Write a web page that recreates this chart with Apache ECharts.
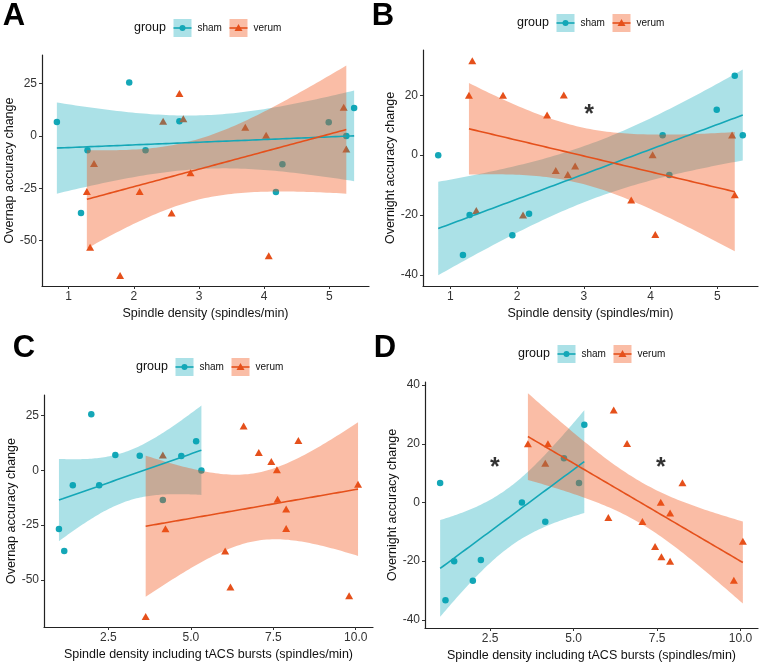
<!DOCTYPE html>
<html>
<head>
<meta charset="utf-8">
<script src="https://cdn.jsdelivr.net/npm/echarts@6/dist/echarts.min.js"></script>
<style>
  html, body { margin: 0; padding: 0; background: #fff; }
  #chart { width: 760px; height: 664px; }
</style>
</head>
<body>
<div id="chart"></div>
<script>
// one entry per subject, same order in every array of a group
const shamDensity     = [0.82, 1.19, 1.29, 1.93, 2.18, 2.70, 4.18, 4.28, 4.99, 5.26, 5.38];
const shamDensityTacs = [3.45, 1.16, 1.42, 1.98, 2.22, 2.71, 1.00, 4.15, 4.71, 5.32, 5.16];
const shamOvernap     = [6.7, -36.8, -6.8, 25.6, -6.8, 7.0, -26.8, -13.5, 6.6, 0, 13.3];
const shamOvernight   = [0, -33.3, -20.0, -26.7, -19.6, null, 6.6, -6.6, 15.1, 26.5, 6.6];

const verumDensity     = [1.28, 1.33, 1.39, 1.79, 2.09, 2.45, 2.58, 2.70, 2.76, 2.87, 3.71, 4.03, 4.07, 5.22, 5.26];
const verumDensityTacs = [4.23, 6.20, 7.63, 3.63, 7.89, 4.15, 6.04, 6.60, 7.06, 7.89, 7.44, 7.61, 9.80, 8.26, 10.07];
const verumOvernap     = [-26.6, -53.2, -13.2, -66.7, -26.5, 7.0, -36.8, 20.3, 8.2, -17.6, 4.1, 0.3, -57.3, 13.7, -6.3];
const verumOvernight   = [20.0, 31.5, -18.5, 20.0, -20.0, 13.4, -5.1, 20.1, -6.5, -3.6, -15.0, 0.1, -26.5, 6.7, -13.2];

const densityTicks   = [1, 2, 3, 4, 5];
const tacsTicks      = [2.5, 5, 7.5, 10];
const overnapTicks   = [-50, -25, 0, 25];
const overnightTicksB = [-40, -20, 0, 20];
const overnightTicksD = [-40, -20, 0, 20, 40];

const starsB = [[3.08, 15.7]];
const starsD = [[2.64, 14.1], [7.61, 14.1]];

const FONT = '"Liberation Sans", Arial, sans-serif';
const SHAM = '#14a7b7';
const VERUM = '#e5501b';
const SHAM_FILL = 'rgba(0,165,182,0.33)';
const VERUM_FILL = 'rgba(242,82,22,0.38)';

// t quantile (0.975) by degrees of freedom
const T975 = {5: 2.571, 6: 2.447, 7: 2.365, 8: 2.306, 9: 2.262, 10: 2.228, 11: 2.201,
  12: 2.179, 13: 2.160, 14: 2.145, 15: 2.131, 16: 2.120, 17: 2.110, 18: 2.101};

// linear fit with 95% confidence band, like geom_smooth(method = "lm")
function fitLm(xs, ys) {
  const pts = xs.map((x, i) => [x, ys[i]]).filter((d) => d[1] !== null);
  const n = pts.length;
  const mx = pts.reduce((s, d) => s + d[0], 0) / n;
  const my = pts.reduce((s, d) => s + d[1], 0) / n;
  let sxx = 0, sxy = 0;
  pts.forEach((d) => { sxx += (d[0] - mx) ** 2; sxy += (d[0] - mx) * (d[1] - my); });
  const b = sxy / sxx, a = my - b * mx;
  let sse = 0;
  pts.forEach((d) => { const r = d[1] - (a + b * d[0]); sse += r * r; });
  const s = Math.sqrt(sse / (n - 2));
  const t = T975[n - 2];
  const lo = Math.min(...pts.map((d) => d[0]));
  const hi = Math.max(...pts.map((d) => d[0]));
  const line = [], band = [];
  for (let k = 0; k < 80; k++) {
    const x = lo + (hi - lo) * k / 79;
    const f = a + b * x;
    const se = s * Math.sqrt(1 / n + (x - mx) ** 2 / sxx);
    line.push([x, f]);
    band.push([x, f - t * se, f + t * se]);
  }
  return { pts, line, band };
}

function expand(vals) {
  const lo = Math.min(...vals), hi = Math.max(...vals), d = (hi - lo) * 0.05;
  return [lo - d, hi + d];
}

const panels = [
  { letter: 'A', lx: 14, ly: 16, legX: 134, legY: 28,
    grid: { left: 42, top: 55, width: 327, height: 231 },
    sx: shamDensity, sy: shamOvernap, vx: verumDensity, vy: verumOvernap,
    xTicks: densityTicks, yTicks: overnapTicks, dec: false,
    xName: 'Spindle density (spindles/min)', yName: 'Overnap accuracy change', stars: [] },
  { letter: 'B', lx: 383, ly: 16, legX: 517, legY: 23,
    grid: { left: 423, top: 50, width: 335, height: 236 },
    sx: shamDensity, sy: shamOvernight, vx: verumDensity, vy: verumOvernight,
    xTicks: densityTicks, yTicks: overnightTicksB, dec: false,
    xName: 'Spindle density (spindles/min)', yName: 'Overnight accuracy change', stars: starsB },
  { letter: 'C', lx: 24, ly: 348, legX: 136, legY: 367,
    grid: { left: 44, top: 395, width: 329, height: 232 },
    sx: shamDensityTacs, sy: shamOvernap, vx: verumDensityTacs, vy: verumOvernap,
    xTicks: tacsTicks, yTicks: overnapTicks, dec: true,
    xName: 'Spindle density including tACS bursts (spindles/min)', yName: 'Overnap accuracy change', stars: [] },
  { letter: 'D', lx: 385, ly: 348, legX: 518, legY: 354,
    grid: { left: 425, top: 382, width: 333, height: 246 },
    sx: shamDensityTacs, sy: shamOvernight, vx: verumDensityTacs, vy: verumOvernight,
    xTicks: tacsTicks, yTicks: overnightTicksD, dec: true,
    xName: 'Spindle density including tACS bursts (spindles/min)', yName: 'Overnight accuracy change', stars: starsD },
];

function ribbon(band) {
  return (params, api) => {
    if (params.dataIndex !== 0) return null;
    const upper = band.map((d) => api.coord([d[0], d[2]]));
    const lower = band.map((d) => api.coord([d[0], d[1]])).reverse();
    return { type: 'polygon', shape: { points: upper.concat(lower) }, style: { fill: api.visual('color') } };
  };
}

const grids = [], xAxes = [], yAxes = [], series = [], graphics = [];

panels.forEach((p, i) => {
  const sham = fitLm(p.sx, p.sy);
  const verum = fitLm(p.vx, p.vy);
  const xr = expand(sham.pts.concat(verum.pts).map((d) => d[0]));
  const yr = expand([].concat(
    sham.pts.map((d) => d[1]), verum.pts.map((d) => d[1]),
    sham.band.map((d) => d[1]), sham.band.map((d) => d[2]),
    verum.band.map((d) => d[1]), verum.band.map((d) => d[2])));

  grids.push(Object.assign({ outerBoundsMode: 'none', containLabel: false }, p.grid));
  const axisCommon = {
    axisLine: { onZero: false, lineStyle: { color: '#222', width: 1.2 } },
    splitLine: { show: false },
    nameLocation: 'middle',
    nameTextStyle: { fontFamily: FONT, fontSize: 12.5, color: '#111' },
  };
  xAxes.push(Object.assign({}, axisCommon, {
    type: 'value', gridIndex: i, min: xr[0], max: xr[1],
    name: p.xName, nameGap: 21,
    axisTick: { length: 3, lineStyle: { color: '#333' }, customValues: p.xTicks },
    axisLabel: { customValues: p.xTicks, margin: 5, fontFamily: FONT, fontSize: 12, color: '#333',
      formatter: (v) => (p.dec ? v.toFixed(1) : String(v)) },
  }));
  yAxes.push(Object.assign({}, axisCommon, {
    type: 'value', gridIndex: i, min: yr[0], max: yr[1],
    name: p.yName, nameGap: 26,
    axisTick: { length: 3, lineStyle: { color: '#333' }, customValues: p.yTicks },
    axisLabel: { customValues: p.yTicks, margin: 5, fontFamily: FONT, fontSize: 12, color: '#333' },
  }));

  // points under the ribbons, lines on top, as in the ggplot layering
  series.push(
    { type: 'scatter', name: 'sham', xAxisIndex: i, yAxisIndex: i, z: 2, symbol: 'circle', symbolSize: 6.5,
      itemStyle: { color: SHAM, opacity: 1 }, data: sham.pts, silent: true },
    { type: 'scatter', name: 'verum', xAxisIndex: i, yAxisIndex: i, z: 2, symbol: 'triangle', symbolSize: [8, 7],
      itemStyle: { color: VERUM, opacity: 1 }, data: verum.pts, silent: true },
    { type: 'custom', xAxisIndex: i, yAxisIndex: i, z: 3, itemStyle: { color: SHAM_FILL },
      renderItem: ribbon(sham.band), data: sham.band, silent: true },
    { type: 'custom', xAxisIndex: i, yAxisIndex: i, z: 3, itemStyle: { color: VERUM_FILL },
      renderItem: ribbon(verum.band), data: verum.band, silent: true },
    { type: 'line', xAxisIndex: i, yAxisIndex: i, z: 4, data: sham.line, showSymbol: false,
      lineStyle: { color: SHAM, width: 1.6 }, itemStyle: { color: SHAM }, silent: true },
    { type: 'line', xAxisIndex: i, yAxisIndex: i, z: 4, data: verum.line, showSymbol: false,
      lineStyle: { color: VERUM, width: 1.6 }, itemStyle: { color: VERUM }, silent: true }
  );
  if (p.stars.length) {
    series.push({ type: 'scatter', xAxisIndex: i, yAxisIndex: i, z: 5, symbolSize: 1,
      itemStyle: { color: 'rgba(0,0,0,0)' }, data: p.stars, silent: true,
      label: { show: true, position: 'inside', formatter: '*', offset: [0, 7],
        fontFamily: FONT, fontSize: 25, fontWeight: 'bold', color: '#000' } });
  }

  // panel letter
  graphics.push({ type: 'text', x: p.lx, y: p.ly,
    style: { text: p.letter, font: 'bold 31px ' + FONT, fill: '#000', align: 'center', verticalAlign: 'middle' } });

  // legend: group / sham / verum keys
  const L = p.legX, cy = p.legY;
  const sk = L + 39.5, vk = L + 95.5;
  graphics.push(
    { type: 'text', x: L, y: cy, style: { text: 'group', font: '12.5px ' + FONT, fill: '#111', verticalAlign: 'middle' } },
    { type: 'rect', shape: { x: sk, y: cy - 9, width: 18, height: 18 }, style: { fill: SHAM_FILL } },
    { type: 'line', shape: { x1: sk, y1: cy, x2: sk + 18, y2: cy }, style: { stroke: SHAM, lineWidth: 1.6 } },
    { type: 'circle', shape: { cx: sk + 9, cy: cy, r: 3 }, style: { fill: SHAM } },
    { type: 'text', x: sk + 24, y: cy, style: { text: 'sham', font: '10px ' + FONT, fill: '#111', verticalAlign: 'middle' } },
    { type: 'rect', shape: { x: vk, y: cy - 9, width: 18, height: 18 }, style: { fill: VERUM_FILL } },
    { type: 'line', shape: { x1: vk, y1: cy, x2: vk + 18, y2: cy }, style: { stroke: VERUM, lineWidth: 1.6 } },
    { type: 'polygon', shape: { points: [[vk + 9, cy - 4], [vk + 13, cy + 3], [vk + 5, cy + 3]] }, style: { fill: VERUM } },
    { type: 'text', x: vk + 24, y: cy, style: { text: 'verum', font: '10px ' + FONT, fill: '#111', verticalAlign: 'middle' } }
  );
});

const myChart = echarts.init(document.getElementById('chart'), null, { renderer: 'canvas' });
myChart.setOption({
  animation: false,
  backgroundColor: '#fff',
  grid: grids,
  xAxis: xAxes,
  yAxis: yAxes,
  series: series,
  graphic: graphics,
});
</script>
</body>
</html>
